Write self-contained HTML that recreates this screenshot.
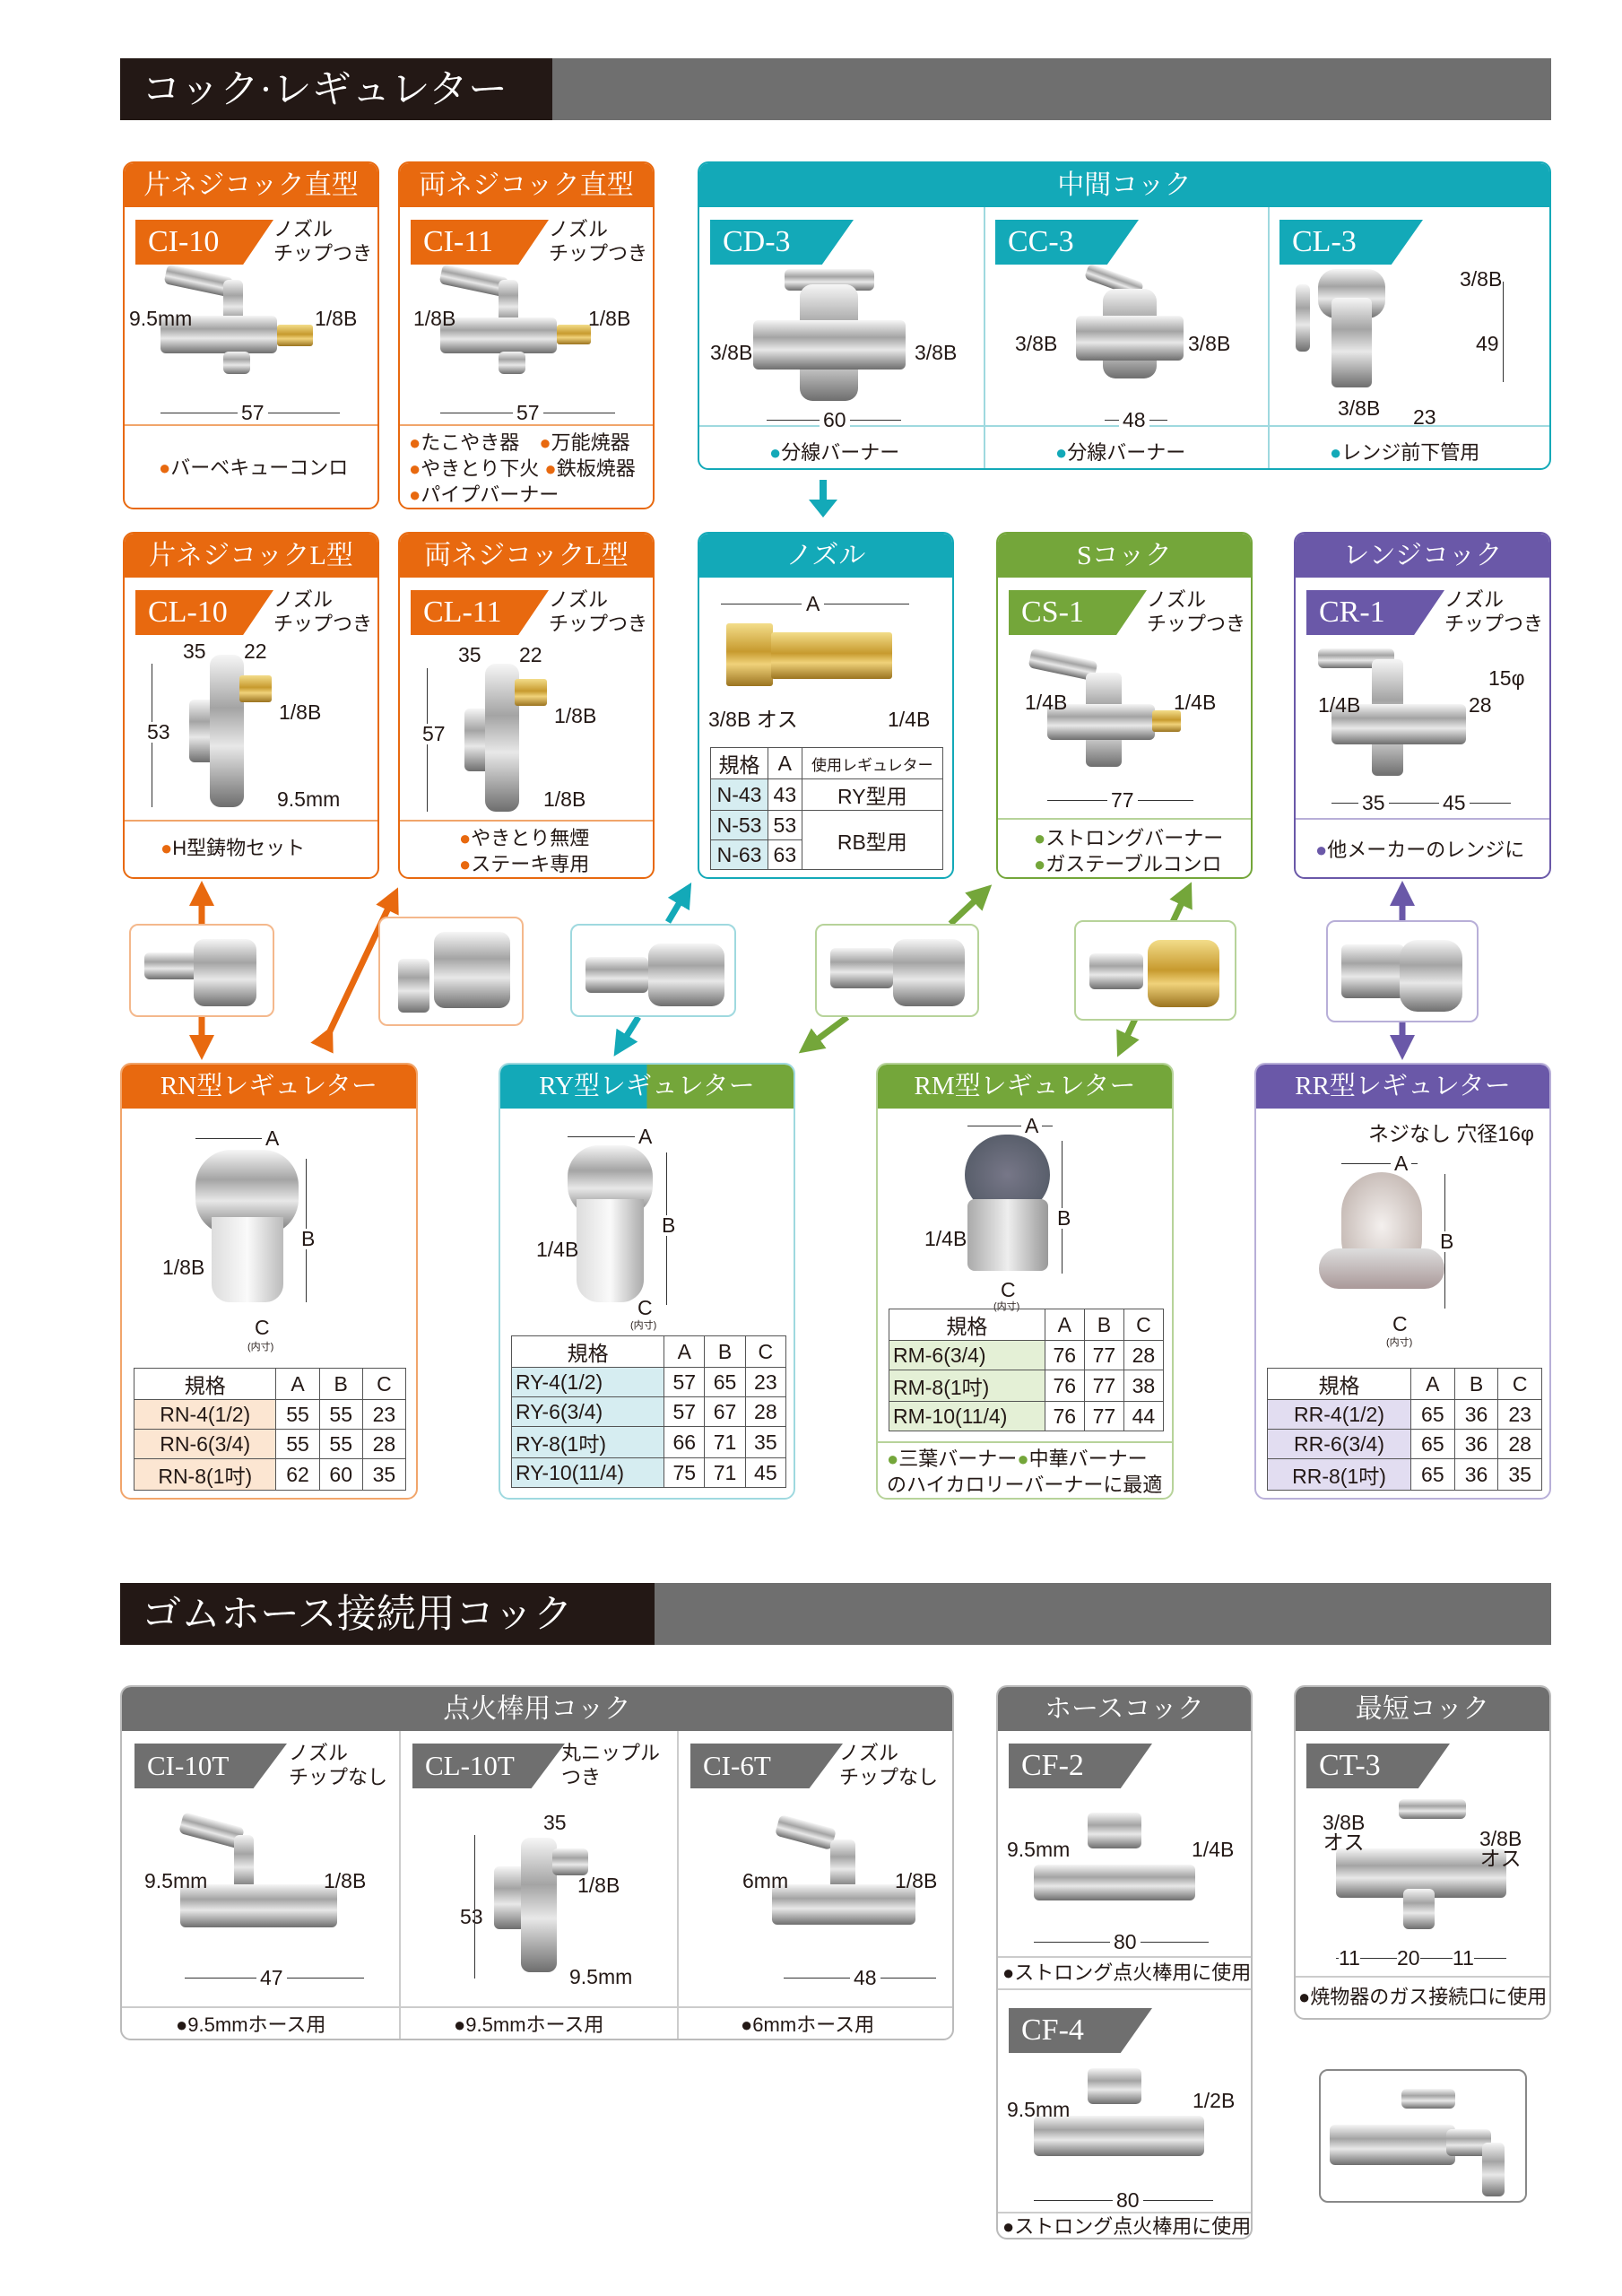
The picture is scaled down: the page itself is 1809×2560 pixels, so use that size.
<!DOCTYPE html>
<html><head><meta charset="utf-8">
<style>
*{margin:0;padding:0;box-sizing:border-box}
body{width:1809px;height:2560px;background:#fff;position:relative;overflow:hidden;font-family:"Liberation Sans","Noto Sans CJK JP",sans-serif;color:#231815}
.a{position:absolute}
.c{position:absolute;border:2px solid;border-radius:12px;background:#fff;overflow:hidden}
.h{position:absolute;left:0;top:0;right:0;height:49px;color:#fff;font-family:"Liberation Serif","Noto Serif CJK SC",serif;font-size:30px;text-align:center;line-height:49px}
.b{position:absolute;height:50px;color:#fff;font-family:"Liberation Serif","Noto Serif CJK SC",serif;font-size:34px;line-height:50px;padding-left:14px;clip-path:polygon(0 0,100% 0,78% 100%,0 100%)}
.t{position:absolute;font-size:23px;white-space:nowrap;line-height:1}
.n{position:absolute;font-size:22px;line-height:27px;white-space:nowrap}
.f{position:absolute;font-size:22px;line-height:29px;white-space:nowrap}
.m{position:absolute;background:linear-gradient(#f6f6f6,#a4a4a4 35%,#e8e8e8 60%,#6e6e6e);border-radius:6px}
.br{position:absolute;background:linear-gradient(#f3dd8a,#c79a2e 45%,#f0d27a 65%,#9b7420);border-radius:3px}
.dl{position:absolute;height:0;border-top:1.5px solid #333}
.dv{position:absolute;width:0;border-left:1.5px solid #333}
.hr{position:absolute;left:0;right:0;height:0;border-top:2px solid}
.vr{position:absolute;top:49px;bottom:0;width:0;border-left:2px solid}
table{position:absolute;border-collapse:collapse;font-size:23px}
td{border:1.5px solid #555;text-align:center;height:33px;padding:0 4px}
.hdr{position:absolute;left:134px;width:1596px;height:69px;background:#6f6f6f}
.hdr div{position:absolute;left:0;top:0;height:69px;background:#231815;color:#fff;font-family:"Liberation Serif","Noto Serif CJK SC",serif;font-size:44px;line-height:69px;padding-left:24px}
.pb{position:absolute;border:2px solid;border-radius:10px;background:#fff}
</style></head><body>

<div class="hdr" style="top:65px"><div style="width:482px">コック·レギュレター</div></div>

<!-- Row 1 -->
<div class="c" style="left:137px;top:180px;width:286px;height:388px;border-color:#e8690f">
 <div class="h" style="background:#e8690f">片ネジコック直型</div>
 <div class="b" style="left:12px;top:63px;width:154px;background:#e8690f">CI-10</div>
 <div class="n" style="left:166px;top:60px">ノズル<br>チップつき</div>
 <div class="m" style="left:45px;top:120px;width:75px;height:22px;transform:rotate(12deg)"></div>
 <div class="m" style="left:110px;top:130px;width:22px;height:50px"></div>
 <div class="m" style="left:40px;top:170px;width:130px;height:42px"></div>
 <div class="br" style="left:170px;top:180px;width:40px;height:24px"></div>
 <div class="m" style="left:110px;top:210px;width:30px;height:25px"></div>
 <div class="t" style="left:5px;top:162px">9.5mm</div><div class="t" style="left:212px;top:162px">1/8B</div>
 <div class="dl" style="left:40px;top:278px;width:200px"></div><div class="t" style="left:126px;top:267px;background:#fff;padding:0 4px">57</div>
 <div class="hr" style="top:291px;border-color:#f1a56b"></div>
 <div class="f" style="left:38px;top:325px"><span style="color:#e8690f">●</span>バーベキューコンロ</div>
</div>
<div class="c" style="left:444px;top:180px;width:286px;height:388px;border-color:#e8690f">
 <div class="h" style="background:#e8690f">両ネジコック直型</div>
 <div class="b" style="left:12px;top:63px;width:154px;background:#e8690f">CI-11</div>
 <div class="n" style="left:166px;top:60px">ノズル<br>チップつき</div>
 <div class="m" style="left:45px;top:120px;width:75px;height:22px;transform:rotate(12deg)"></div>
 <div class="m" style="left:110px;top:130px;width:22px;height:50px"></div>
 <div class="m" style="left:45px;top:172px;width:130px;height:40px"></div>
 <div class="br" style="left:175px;top:180px;width:38px;height:22px"></div>
 <div class="m" style="left:110px;top:210px;width:30px;height:25px"></div>
 <div class="t" style="left:15px;top:162px">1/8B</div><div class="t" style="left:210px;top:162px">1/8B</div>
 <div class="dl" style="left:45px;top:278px;width:195px"></div><div class="t" style="left:126px;top:267px;background:#fff;padding:0 4px">57</div>
 <div class="hr" style="top:291px;border-color:#f1a56b"></div>
 <div class="f" style="left:10px;top:297px"><span style="color:#e8690f">●</span>たこやき器　<span style="color:#e8690f">●</span>万能焼器<br><span style="color:#e8690f">●</span>やきとり下火 <span style="color:#e8690f">●</span>鉄板焼器<br><span style="color:#e8690f">●</span>パイプバーナー</div>
</div>
<div class="c" style="left:778px;top:180px;width:952px;height:344px;border-color:#13a9b8">
 <div class="h" style="background:#13a9b8">中間コック</div>
 <div class="vr" style="left:317px;border-color:#9fd9df"></div><div class="vr" style="left:634px;border-color:#9fd9df"></div>
 <div class="hr" style="top:292px;border-color:#9fd9df"></div>
 <div class="b" style="left:12px;top:63px;width:160px;background:#13a9b8">CD-3</div>
 <div class="b" style="left:330px;top:63px;width:160px;background:#13a9b8">CC-3</div>
 <div class="b" style="left:647px;top:63px;width:160px;background:#13a9b8">CL-3</div>
 <div class="m" style="left:95px;top:118px;width:100px;height:24px"></div>
 <div class="m" style="left:112px;top:135px;width:65px;height:130px;border-radius:14px"></div>
 <div class="m" style="left:60px;top:175px;width:170px;height:55px"></div>
 <div class="t" style="left:12px;top:200px">3/8B</div><div class="t" style="left:240px;top:200px">3/8B</div>
 <div class="dl" style="left:75px;top:286px;width:150px"></div><div class="t" style="left:134px;top:275px;background:#fff;padding:0 4px">60</div>
 <div class="m" style="left:430px;top:122px;width:65px;height:18px;transform:rotate(20deg)"></div>
 <div class="m" style="left:450px;top:140px;width:60px;height:100px;border-radius:14px"></div>
 <div class="m" style="left:420px;top:170px;width:120px;height:50px"></div>
 <div class="t" style="left:352px;top:190px">3/8B</div><div class="t" style="left:545px;top:190px">3/8B</div>
 <div class="dl" style="left:452px;top:286px;width:70px"></div><div class="t" style="left:468px;top:275px;background:#fff;padding:0 4px">48</div>
 <div class="m" style="left:665px;top:135px;width:16px;height:75px"></div>
 <div class="m" style="left:690px;top:118px;width:75px;height:55px;border-radius:20px"></div>
 <div class="m" style="left:705px;top:150px;width:45px;height:100px"></div>
 <div class="t" style="left:848px;top:118px">3/8B</div><div class="t" style="left:866px;top:190px">49</div>
 <div class="dv" style="left:896px;top:132px;height:112px"></div>
 <div class="t" style="left:712px;top:262px">3/8B</div><div class="t" style="left:796px;top:272px">23</div>
 <div class="f" style="left:78px;top:308px"><span style="color:#13a9b8">●</span>分線バーナー</div>
 <div class="f" style="left:397px;top:308px"><span style="color:#13a9b8">●</span>分線バーナー</div>
 <div class="f" style="left:703px;top:308px"><span style="color:#13a9b8">●</span>レンジ前下管用</div>
</div>
<svg class="a" style="left:898px;top:535px" width="40" height="45"><rect x="16" y="0" width="8" height="25" fill="#13a9b8"/><polygon points="4,22 36,22 20,42" fill="#13a9b8"/></svg>

<!-- Row 2 -->
<div class="c" style="left:137px;top:593px;width:286px;height:387px;border-color:#e8690f">
 <div class="h" style="background:#e8690f">片ネジコックL型</div>
 <div class="b" style="left:12px;top:63px;width:154px;background:#e8690f">CL-10</div>
 <div class="n" style="left:166px;top:60px">ノズル<br>チップつき</div>
 <div class="m" style="left:72px;top:185px;width:30px;height:70px"></div>
 <div class="m" style="left:95px;top:135px;width:38px;height:170px;border-radius:12px"></div>
 <div class="br" style="left:128px;top:158px;width:36px;height:30px"></div>
 <div class="t" style="left:65px;top:120px">35</div><div class="t" style="left:133px;top:120px">22</div>
 <div class="dv" style="left:30px;top:145px;height:160px"></div>
 <div class="t" style="left:25px;top:210px;background:#fff">53</div>
 <div class="t" style="left:172px;top:188px">1/8B</div><div class="t" style="left:170px;top:285px">9.5mm</div>
 <div class="hr" style="top:319px;border-color:#f1a56b"></div>
 <div class="f" style="left:40px;top:336px"><span style="color:#e8690f">●</span>H型鋳物セット</div>
</div>
<div class="c" style="left:444px;top:593px;width:286px;height:387px;border-color:#e8690f">
 <div class="h" style="background:#e8690f">両ネジコックL型</div>
 <div class="b" style="left:12px;top:63px;width:154px;background:#e8690f">CL-11</div>
 <div class="n" style="left:166px;top:60px">ノズル<br>チップつき</div>
 <div class="m" style="left:72px;top:195px;width:30px;height:70px"></div>
 <div class="m" style="left:95px;top:145px;width:38px;height:165px;border-radius:12px"></div>
 <div class="br" style="left:128px;top:162px;width:36px;height:30px"></div>
 <div class="t" style="left:65px;top:124px">35</div><div class="t" style="left:133px;top:124px">22</div>
 <div class="dv" style="left:30px;top:150px;height:160px"></div>
 <div class="t" style="left:25px;top:212px;background:#fff">57</div>
 <div class="t" style="left:172px;top:192px">1/8B</div><div class="t" style="left:160px;top:285px">1/8B</div>
 <div class="hr" style="top:319px;border-color:#f1a56b"></div>
 <div class="f" style="left:66px;top:325px"><span style="color:#e8690f">●</span>やきとり無煙<br><span style="color:#e8690f">●</span>ステーキ専用</div>
</div>
<div class="c" style="left:778px;top:593px;width:286px;height:387px;border-color:#13a9b8">
 <div class="h" style="background:#13a9b8">ノズル</div>
 <div class="dl" style="left:24px;top:78px;width:210px"></div><div class="t" style="left:114px;top:67px;background:#fff;padding:0 5px">A</div>
 <div class="br" style="left:30px;top:100px;width:52px;height:70px"></div>
 <div class="br" style="left:80px;top:110px;width:135px;height:52px"></div>
 <div class="t" style="left:10px;top:196px">3/8B オス</div><div class="t" style="left:210px;top:196px">1/4B</div>
 <table style="left:12px;top:238px;width:260px"><tr><td>規格</td><td>A</td><td style="font-size:17px">使用レギュレター</td></tr>
 <tr><td style="background:#d6edf1">N-43</td><td>43</td><td>RY型用</td></tr>
 <tr><td style="background:#d6edf1">N-53</td><td>53</td><td rowspan="2">RB型用</td></tr>
 <tr><td style="background:#d6edf1">N-63</td><td>63</td></tr></table>
</div>
<div class="c" style="left:1111px;top:593px;width:286px;height:387px;border-color:#74a63a">
 <div class="h" style="background:#74a63a">Sコック</div>
 <div class="b" style="left:12px;top:63px;width:154px;background:#74a63a">CS-1</div>
 <div class="n" style="left:166px;top:60px">ノズル<br>チップつき</div>
 <div class="m" style="left:35px;top:135px;width:75px;height:22px;transform:rotate(12deg)"></div>
 <div class="m" style="left:98px;top:155px;width:40px;height:105px"></div>
 <div class="m" style="left:55px;top:190px;width:120px;height:40px"></div>
 <div class="br" style="left:172px;top:197px;width:32px;height:24px"></div>
 <div class="t" style="left:30px;top:177px">1/4B</div><div class="t" style="left:196px;top:177px">1/4B</div>
 <div class="dl" style="left:55px;top:297px;width:163px"></div><div class="t" style="left:122px;top:286px;background:#fff;padding:0 4px">77</div>
 <div class="hr" style="top:317px;border-color:#b7d39a"></div>
 <div class="f" style="left:40px;top:325px"><span style="color:#74a63a">●</span>ストロングバーナー<br><span style="color:#74a63a">●</span>ガステーブルコンロ</div>
</div>
<div class="c" style="left:1443px;top:593px;width:287px;height:387px;border-color:#6a58a8">
 <div class="h" style="background:#6a58a8">レンジコック</div>
 <div class="b" style="left:12px;top:63px;width:154px;background:#6a58a8">CR-1</div>
 <div class="n" style="left:166px;top:60px">ノズル<br>チップつき</div>
 <div class="m" style="left:25px;top:128px;width:85px;height:22px"></div>
 <div class="m" style="left:85px;top:140px;width:35px;height:130px"></div>
 <div class="m" style="left:40px;top:190px;width:150px;height:45px"></div>
 <div class="t" style="left:25px;top:180px">1/4B</div><div class="t" style="left:215px;top:150px">15φ</div><div class="t" style="left:193px;top:180px">28</div>
 <div class="dl" style="left:40px;top:300px;width:200px"></div>
 <div class="t" style="left:70px;top:289px;background:#fff;padding:0 4px">35</div><div class="t" style="left:160px;top:289px;background:#fff;padding:0 4px">45</div>
 <div class="hr" style="top:317px;border-color:#b8afd8"></div>
 <div class="f" style="left:22px;top:338px"><span style="color:#6a58a8">●</span>他メーカーのレンジに</div>
</div>

<!-- connectors -->
<svg class="a" style="left:0;top:980px" width="1809" height="205">
<defs>
<marker id="mo" markerWidth="4" markerHeight="4" refX="2" refY="2" orient="auto"><path d="M0,0L4,2L0,4z" fill="#e8690f"/></marker>
<marker id="mt" markerWidth="4" markerHeight="4" refX="2" refY="2" orient="auto"><path d="M0,0L4,2L0,4z" fill="#13a9b8"/></marker>
<marker id="mg" markerWidth="4" markerHeight="4" refX="2" refY="2" orient="auto"><path d="M0,0L4,2L0,4z" fill="#74a63a"/></marker>
<marker id="mp" markerWidth="4" markerHeight="4" refX="2" refY="2" orient="auto"><path d="M0,0L4,2L0,4z" fill="#6a58a8"/></marker>
</defs>
<g stroke-width="7" fill="none">
<line x1="225" y1="50" x2="225" y2="16" stroke="#e8690f" marker-end="url(#mo)"/>
<line x1="225" y1="154" x2="225" y2="188" stroke="#e8690f" marker-end="url(#mo)"/>
<line x1="365" y1="176" x2="438" y2="22" stroke="#e8690f" marker-end="url(#mo)" marker-start="url(#mo)"/>
<line x1="745" y1="48" x2="764" y2="16" stroke="#13a9b8" marker-end="url(#mt)"/>
<line x1="712" y1="154" x2="692" y2="186" stroke="#13a9b8" marker-end="url(#mt)"/>
<line x1="1060" y1="50" x2="1096" y2="16" stroke="#74a63a" marker-end="url(#mg)"/>
<line x1="945" y1="154" x2="902" y2="186" stroke="#74a63a" marker-end="url(#mg)"/>
<line x1="1308" y1="48" x2="1323" y2="16" stroke="#74a63a" marker-end="url(#mg)"/>
<line x1="1266" y1="156" x2="1252" y2="186" stroke="#74a63a" marker-end="url(#mg)"/>
<line x1="1564" y1="46" x2="1564" y2="16" stroke="#6a58a8" marker-end="url(#mp)"/>
<line x1="1564" y1="160" x2="1564" y2="188" stroke="#6a58a8" marker-end="url(#mp)"/>
</g></svg>
<div class="pb" style="left:144px;top:1030px;width:162px;height:104px;border-color:#f4b88c"><div class="m" style="left:15px;top:30px;width:60px;height:30px"></div><div class="m" style="left:70px;top:15px;width:70px;height:75px;border-radius:12px"></div></div>
<div class="pb" style="left:422px;top:1022px;width:162px;height:122px;border-color:#f4b88c"><div class="m" style="left:20px;top:45px;width:35px;height:60px"></div><div class="m" style="left:60px;top:15px;width:85px;height:85px;border-radius:12px"></div></div>
<div class="pb" style="left:636px;top:1030px;width:185px;height:104px;border-color:#9fd9df"><div class="m" style="left:15px;top:35px;width:70px;height:40px"></div><div class="m" style="left:85px;top:20px;width:85px;height:70px;border-radius:14px"></div></div>
<div class="pb" style="left:909px;top:1030px;width:183px;height:104px;border-color:#b7d39a"><div class="m" style="left:15px;top:25px;width:70px;height:45px"></div><div class="m" style="left:85px;top:15px;width:80px;height:75px;border-radius:14px"></div></div>
<div class="pb" style="left:1198px;top:1026px;width:181px;height:112px;border-color:#b7d39a"><div class="m" style="left:15px;top:35px;width:60px;height:40px"></div><div class="br" style="left:80px;top:20px;width:80px;height:75px;border-radius:14px"></div></div>
<div class="pb" style="left:1479px;top:1026px;width:170px;height:114px;border-color:#b8afd8"><div class="m" style="left:15px;top:25px;width:70px;height:60px"></div><div class="m" style="left:80px;top:20px;width:70px;height:80px;border-radius:20px"></div></div>

<!-- Row 3 regulators -->
<div class="c" style="left:134px;top:1185px;width:332px;height:487px;border-color:#f1a56b">
 <div class="h" style="background:#e8690f;font-size:29px">RN型レギュレター</div>
 <div class="dl" style="left:82px;top:82px;width:95px"></div><div class="t" style="left:156px;top:71px;background:#fff;padding:0 4px">A</div>
 <div class="m" style="left:82px;top:95px;width:115px;height:95px;border-radius:40px"></div>
 <div class="a" style="left:100px;top:170px;width:80px;height:95px;background:linear-gradient(90deg,#ddd,#fafafa,#bbb);border-radius:0 0 20px 20px"></div>
 <div class="dv" style="left:205px;top:105px;height:160px"></div><div class="t" style="left:200px;top:183px;background:#fff">B</div>
 <div class="t" style="left:45px;top:215px">1/8B</div>
 <div class="t" style="left:148px;top:282px">C</div><div class="a" style="left:140px;top:306px;font-size:11px">(内寸)</div>
 <table style="left:13px;top:338px;width:304px"><tr><td>規格</td><td>A</td><td>B</td><td>C</td></tr>
 <tr><td style="background:#fce6d2">RN-4(1/2)</td><td>55</td><td>55</td><td>23</td></tr>
 <tr><td style="background:#fce6d2">RN-6(3/4)</td><td>55</td><td>55</td><td>28</td></tr>
 <tr><td style="background:#fce6d2">RN-8(1吋)</td><td>62</td><td>60</td><td>35</td></tr></table>
</div>
<div class="c" style="left:556px;top:1185px;width:331px;height:487px;border-color:#9fd9df">
 <div class="h" style="background:linear-gradient(90deg,#13a9b8 50%,#74a63a 50%);font-size:29px">RY型レギュレター</div>
 <div class="dl" style="left:75px;top:80px;width:95px"></div><div class="t" style="left:150px;top:69px;background:#fff;padding:0 4px">A</div>
 <div class="m" style="left:75px;top:90px;width:95px;height:80px;border-radius:35px"></div>
 <div class="a" style="left:85px;top:150px;width:75px;height:115px;background:linear-gradient(90deg,#ddd,#fafafa,#aaa);border-radius:0 0 25px 25px"></div>
 <div class="dv" style="left:185px;top:98px;height:170px"></div><div class="t" style="left:180px;top:168px;background:#fff">B</div>
 <div class="t" style="left:40px;top:195px">1/4B</div>
 <div class="t" style="left:153px;top:260px">C</div><div class="a" style="left:145px;top:282px;font-size:11px">(内寸)</div>
 <table style="left:12px;top:302px;width:307px"><tr><td>規格</td><td>A</td><td>B</td><td>C</td></tr>
 <tr><td style="background:#d6edf1;text-align:left">RY-4(1/2)</td><td>57</td><td>65</td><td>23</td></tr>
 <tr><td style="background:#d6edf1;text-align:left">RY-6(3/4)</td><td>57</td><td>67</td><td>28</td></tr>
 <tr><td style="background:#d6edf1;text-align:left">RY-8(1吋)</td><td>66</td><td>71</td><td>35</td></tr>
 <tr><td style="background:#d6edf1;text-align:left">RY-10(11/4)</td><td>75</td><td>71</td><td>45</td></tr></table>
</div>
<div class="c" style="left:977px;top:1185px;width:332px;height:487px;border-color:#b7d39a">
 <div class="h" style="background:#74a63a;font-size:29px">RM型レギュレター</div>
 <div class="dl" style="left:100px;top:68px;width:95px"></div><div class="t" style="left:160px;top:57px;background:#fff;padding:0 4px">A</div>
 <div class="a" style="left:97px;top:78px;width:95px;height:90px;background:radial-gradient(#778,#4d5560);border-radius:45px"></div>
 <div class="a" style="left:100px;top:150px;width:90px;height:80px;background:linear-gradient(90deg,#aaa,#eee,#999);border-radius:8px"></div>
 <div class="dv" style="left:205px;top:85px;height:148px"></div><div class="t" style="left:200px;top:160px;background:#fff">B</div>
 <div class="t" style="left:52px;top:183px">1/4B</div>
 <div class="t" style="left:137px;top:240px">C</div><div class="a" style="left:129px;top:261px;font-size:11px">(内寸)</div>
 <table style="left:12px;top:272px;width:307px"><tr><td>規格</td><td>A</td><td>B</td><td>C</td></tr>
 <tr><td style="background:#e4f0d6;text-align:left">RM-6(3/4)</td><td>76</td><td>77</td><td>28</td></tr>
 <tr><td style="background:#e4f0d6;text-align:left">RM-8(1吋)</td><td>76</td><td>77</td><td>38</td></tr>
 <tr><td style="background:#e4f0d6;text-align:left">RM-10(11/4)</td><td>76</td><td>77</td><td>44</td></tr></table>
 <div class="hr" style="top:420px;border-color:#b7d39a"></div>
 <div class="f" style="left:10px;top:425px"><span style="color:#74a63a">●</span>三葉バーナー<span style="color:#74a63a">●</span>中華バーナー<br>のハイカロリーバーナーに最適</div>
</div>
<div class="c" style="left:1399px;top:1185px;width:331px;height:487px;border-color:#b8afd8">
 <div class="h" style="background:#6a58a8;font-size:29px">RR型レギュレター</div>
 <div class="t" style="left:125px;top:66px">ネジなし 穴径16φ</div>
 <div class="dl" style="left:95px;top:110px;width:85px"></div><div class="t" style="left:150px;top:99px;background:#fff;padding:0 4px">A</div>
 <div class="a" style="left:95px;top:120px;width:90px;height:120px;background:radial-gradient(#f4f0ee,#b8aaa4);border-radius:45px"></div>
 <div class="a" style="left:70px;top:205px;width:140px;height:45px;background:linear-gradient(#ddd,#a99);border-radius:22px"></div>
 <div class="dv" style="left:210px;top:122px;height:150px"></div><div class="t" style="left:205px;top:186px;background:#fff">B</div>
 <div class="t" style="left:152px;top:278px">C</div><div class="a" style="left:145px;top:301px;font-size:11px">(内寸)</div>
 <table style="left:12px;top:338px;width:307px"><tr><td>規格</td><td>A</td><td>B</td><td>C</td></tr>
 <tr><td style="background:#e2ddf1">RR-4(1/2)</td><td>65</td><td>36</td><td>23</td></tr>
 <tr><td style="background:#e2ddf1">RR-6(3/4)</td><td>65</td><td>36</td><td>28</td></tr>
 <tr><td style="background:#e2ddf1">RR-8(1吋)</td><td>65</td><td>36</td><td>35</td></tr></table>
</div>

<div class="hdr" style="top:1765px"><div style="width:596px">ゴムホース接続用コック</div></div>

<!-- Row 4 -->
<div class="c" style="left:134px;top:1879px;width:930px;height:396px;border-color:#bbb">
 <div class="h" style="background:#6f6f6f">点火棒用コック</div>
 <div class="vr" style="left:309px;border-color:#ccc"></div><div class="vr" style="left:619px;border-color:#ccc"></div>
 <div class="hr" style="top:356px;border-color:#ccc"></div>
 <div class="b" style="left:14px;top:63px;width:170px;background:#6f6f6f;font-size:31px">CI-10T</div>
 <div class="n" style="left:186px;top:60px">ノズル<br>チップなし</div>
 <div class="b" style="left:324px;top:63px;width:170px;background:#6f6f6f;font-size:31px">CL-10T</div>
 <div class="n" style="left:490px;top:60px">丸ニップル<br>つき</div>
 <div class="b" style="left:634px;top:63px;width:170px;background:#6f6f6f;font-size:31px">CI-6T</div>
 <div class="n" style="left:800px;top:60px">ノズル<br>チップなし</div>
 <div class="m" style="left:65px;top:148px;width:70px;height:24px;transform:rotate(15deg)"></div>
 <div class="m" style="left:125px;top:165px;width:22px;height:60px"></div>
 <div class="m" style="left:65px;top:220px;width:175px;height:48px"></div>
 <div class="t" style="left:25px;top:205px">9.5mm</div><div class="t" style="left:225px;top:205px">1/8B</div>
 <div class="dl" style="left:70px;top:324px;width:200px"></div><div class="t" style="left:150px;top:313px;background:#fff;padding:0 4px">47</div>
 <div class="m" style="left:415px;top:200px;width:35px;height:70px"></div>
 <div class="m" style="left:445px;top:168px;width:40px;height:150px;border-radius:10px"></div>
 <div class="m" style="left:480px;top:180px;width:40px;height:30px"></div>
 <div class="t" style="left:470px;top:140px">35</div><div class="t" style="left:377px;top:245px">53</div>
 <div class="dv" style="left:393px;top:165px;height:160px"></div>
 <div class="t" style="left:508px;top:210px">1/8B</div><div class="t" style="left:499px;top:312px">9.5mm</div>
 <div class="m" style="left:730px;top:150px;width:65px;height:24px;transform:rotate(15deg)"></div>
 <div class="m" style="left:790px;top:170px;width:28px;height:55px"></div>
 <div class="m" style="left:725px;top:220px;width:160px;height:45px"></div>
 <div class="t" style="left:692px;top:205px">6mm</div><div class="t" style="left:862px;top:205px">1/8B</div>
 <div class="dl" style="left:738px;top:324px;width:170px"></div><div class="t" style="left:812px;top:313px;background:#fff;padding:0 4px">48</div>
 <div class="f" style="left:60px;top:362px">●9.5mmホース用</div>
 <div class="f" style="left:370px;top:362px">●9.5mmホース用</div>
 <div class="f" style="left:690px;top:362px">●6mmホース用</div>
</div>
<div class="c" style="left:1111px;top:1879px;width:286px;height:618px;border-color:#bbb">
 <div class="h" style="background:#6f6f6f">ホースコック</div>
 <div class="b" style="left:12px;top:63px;width:160px;background:#6f6f6f">CF-2</div>
 <div class="m" style="left:100px;top:140px;width:60px;height:40px"></div>
 <div class="m" style="left:40px;top:198px;width:180px;height:40px"></div>
 <div class="t" style="left:10px;top:170px">9.5mm</div><div class="t" style="left:216px;top:170px">1/4B</div>
 <div class="dl" style="left:40px;top:284px;width:195px"></div><div class="t" style="left:125px;top:273px;background:#fff;padding:0 4px">80</div>
 <div class="hr" style="top:300px;border-color:#ccc"></div>
 <div class="f" style="left:5px;top:304px">●ストロング点火棒用に使用</div>
 <div class="hr" style="top:336px;border-color:#ccc"></div>
 <div class="b" style="left:12px;top:358px;width:160px;background:#6f6f6f">CF-4</div>
 <div class="m" style="left:100px;top:425px;width:60px;height:40px"></div>
 <div class="m" style="left:40px;top:478px;width:190px;height:45px"></div>
 <div class="t" style="left:10px;top:460px">9.5mm</div><div class="t" style="left:217px;top:450px">1/2B</div>
 <div class="dl" style="left:40px;top:572px;width:200px"></div><div class="t" style="left:128px;top:561px;background:#fff;padding:0 4px">80</div>
 <div class="hr" style="top:585px;border-color:#ccc"></div>
 <div class="f" style="left:5px;top:587px">●ストロング点火棒用に使用</div>
</div>
<div class="c" style="left:1443px;top:1879px;width:287px;height:373px;border-color:#bbb">
 <div class="h" style="background:#6f6f6f">最短コック</div>
 <div class="b" style="left:12px;top:63px;width:160px;background:#6f6f6f">CT-3</div>
 <div class="m" style="left:115px;top:125px;width:75px;height:22px"></div>
 <div class="m" style="left:45px;top:180px;width:190px;height:55px"></div>
 <div class="m" style="left:120px;top:225px;width:35px;height:45px"></div>
 <div class="t" style="left:30px;top:140px;text-align:center;line-height:22px">3/8B<br>オス</div>
 <div class="t" style="left:205px;top:158px;text-align:center;line-height:22px">3/8B<br>オス</div>
 <div class="dl" style="left:45px;top:302px;width:190px;border-color:#333"></div>
 <div class="t" style="left:48px;top:291px;background:#fff">11</div><div class="t" style="left:113px;top:291px;background:#fff">20</div><div class="t" style="left:175px;top:291px;background:#fff">11</div>
 <div class="hr" style="top:322px;border-color:#ccc"></div>
 <div class="f" style="left:3px;top:331px">●焼物器のガス接続口に使用</div>
</div>
<div class="pb" style="left:1471px;top:2307px;width:232px;height:149px;border-color:#888">
 <div class="m" style="left:10px;top:60px;width:140px;height:45px"></div>
 <div class="m" style="left:90px;top:20px;width:60px;height:22px"></div>
 <div class="m" style="left:140px;top:65px;width:50px;height:30px"></div>
 <div class="m" style="left:180px;top:80px;width:25px;height:60px"></div>
</div>
</body></html>
